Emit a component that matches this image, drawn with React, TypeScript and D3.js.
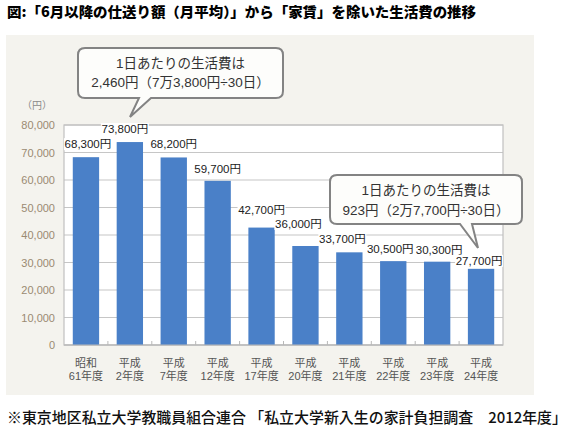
import React from "react";
import * as d3 from "d3";

const categoriesTop = ["昭和", "平成", "平成", "平成", "平成", "平成", "平成", "平成", "平成", "平成"];
const categoriesBottom = ["61年度", "2年度", "7年度", "12年度", "17年度", "20年度", "21年度", "22年度", "23年度", "24年度"];
const values = [68300, 73800, 68200, 59700, 42700, 36000, 33700, 30500, 30300, 27700];
const valueLabels = ["68,300円", "73,800円", "68,200円", "59,700円", "42,700円", "36,000円", "33,700円", "30,500円", "30,300円", "27,700円"];
const yTicks = [0, 10000, 20000, 30000, 40000, 50000, 60000, 70000, 80000];

const title = "図:「6月以降の仕送り額（月平均）」から「家賃」を除いた生活費の推移";
const footnote = "※東京地区私立大学教職員組合連合 「私立大学新入生の家計負担調査　2012年度」";
const callout1 = ["1日あたりの生活費は", "2,460円（7万3,800円÷30日）"];
const callout2 = ["1日あたりの生活費は", "923円（2万7,700円÷30日）"];

// layout-only label nudges (dx, lift above bar top)
const labelDx = [2, -5, 0, 0, 0, -7, -7, -3, 2, -2];
const labelLift = [9, 9, 9, 8, 14, 18, 9, 8, 8, 4];

const W = 576;
const H = 434;
const plot = { left: 64, right: 503, top: 125, bottom: 345 };

const latin = "'Liberation Sans', Arial, 'Noto Sans CJK JP', sans-serif";
const cjk = "'Noto Sans CJK JP', 'Liberation Sans', sans-serif";

function calloutPath(x0: number, y0: number, x1: number, y1: number, r: number, tl: number, tr: number, tipX: number, tipY: number) {
  return [
    `M${x0 + r},${y0}`,
    `H${x1 - r}`,
    `Q${x1},${y0} ${x1},${y0 + r}`,
    `V${y1 - r}`,
    `Q${x1},${y1} ${x1 - r},${y1}`,
    `H${tr}`,
    `L${tipX},${tipY}`,
    `L${tl},${y1}`,
    `H${x0 + r}`,
    `Q${x0},${y1} ${x0},${y1 - r}`,
    `V${y0 + r}`,
    `Q${x0},${y0} ${x0 + r},${y0}`,
    "Z",
  ].join(" ");
}

export default function App() {
  const x = d3
    .scaleBand<number>()
    .domain(d3.range(values.length))
    .range([plot.left, plot.right])
    .paddingInner(0.4)
    .paddingOuter(0.2);
  const y = d3.scaleLinear().domain([0, 80000]).range([plot.bottom, plot.top]);
  const boundaries = d3.range(1, values.length).map((i) => plot.left + i * ((plot.right - plot.left) / values.length));

  return (
    <svg width={W} height={H} style={{ position: "absolute", left: 0, top: 0, background: "#fff" }}>
      <rect x={0} y={0} width={W} height={H} fill="#fff" />
      <text x={7} y={17} fontFamily={cjk} fontWeight={900} fontSize={14} fill="#000" textLength={469} lengthAdjust="spacingAndGlyphs">
        {title}
      </text>

      <rect x={6} y={35} width={528} height={360} fill="#f4f3ee" />

      <rect x={plot.left} y={plot.top} width={plot.right - plot.left} height={plot.bottom - plot.top} fill="#fff" />
      {yTicks.map((t) => (
        <line key={"g" + t} x1={plot.left} x2={plot.right} y1={y(t)} y2={y(t)} stroke="#c6c6c6" strokeWidth={1.2} />
      ))}
      <rect x={plot.left} y={plot.top} width={plot.right - plot.left} height={plot.bottom - plot.top} fill="none" stroke="#c0c0c0" strokeWidth={1.2} />

      {values.map((v, i) => (
        <rect key={"b" + i} x={x(i)!} y={y(v)} width={x.bandwidth()} height={y(0) - y(v)} fill="#4a80c8" />
      ))}
      {boundaries.map((bx, i) => (
        <line key={"t" + i} x1={bx} x2={bx} y1={plot.bottom} y2={plot.bottom - 4} stroke="#b8b8b8" strokeWidth={1} />
      ))}
      <line x1={plot.left} x2={plot.right} y1={plot.bottom} y2={plot.bottom} stroke="#b8b8b8" strokeWidth={1.2} />

      {yTicks.map((t) => (
        <text key={"y" + t} x={55} y={y(t) + 4} textAnchor="end" fontFamily={latin} fontSize={11} fill="#9a8a72">
          {d3.format(",")(t)}
        </text>
      ))}
      <text x={22} y={109} fontFamily={cjk} fontSize={10} fill="#8a8a8a">
        （円）
      </text>

      {values.map((v, i) => {
        const cx = x(i)! + x.bandwidth() / 2 + labelDx[i];
        const by = y(v) - labelLift[i];
        return (
          <g key={"l" + i}>
            <rect x={cx - 24} y={by - 10} width={48} height={12} fill="#fff" />
            <text x={cx} y={by} textAnchor="middle" fontFamily={latin} fontSize={11.5} fill="#222">
              {valueLabels[i]}
            </text>
          </g>
        );
      })}

      {values.map((_, i) => {
        const cx = x(i)! + x.bandwidth() / 2;
        return (
          <g key={"c" + i} fontFamily={latin} fontSize={11} fill="#555" textAnchor="middle">
            <text x={cx} y={367}>{categoriesTop[i]}</text>
            <text x={cx} y={380}>{categoriesBottom[i]}</text>
          </g>
        );
      })}

      <path d={calloutPath(78, 48, 283, 98, 7, 139, 151, 130, 117)} fill="#fdfdfb" stroke="#838383" strokeWidth={2} />
      <g fontFamily={latin} fontSize={13.5} fill="#333" textAnchor="middle">
        <text x={180.5} y={68}>{callout1[0]}</text>
        <text x={180.5} y={87}>{callout1[1]}</text>
      </g>

      <path d={calloutPath(330, 175, 522, 224, 7, 460, 472, 478, 248)} fill="#fdfdfb" stroke="#838383" strokeWidth={2} />
      <g fontFamily={latin} fontSize={13.5} fill="#333" textAnchor="middle">
        <text x={426} y={195}>{callout2[0]}</text>
        <text x={426} y={215}>{callout2[1]}</text>
      </g>

      <text x={7} y={423} fontFamily={cjk} fontSize={15} fontWeight={500} fill="#111" textLength={560} lengthAdjust="spacingAndGlyphs">
        {footnote}
      </text>
    </svg>
  );
}
